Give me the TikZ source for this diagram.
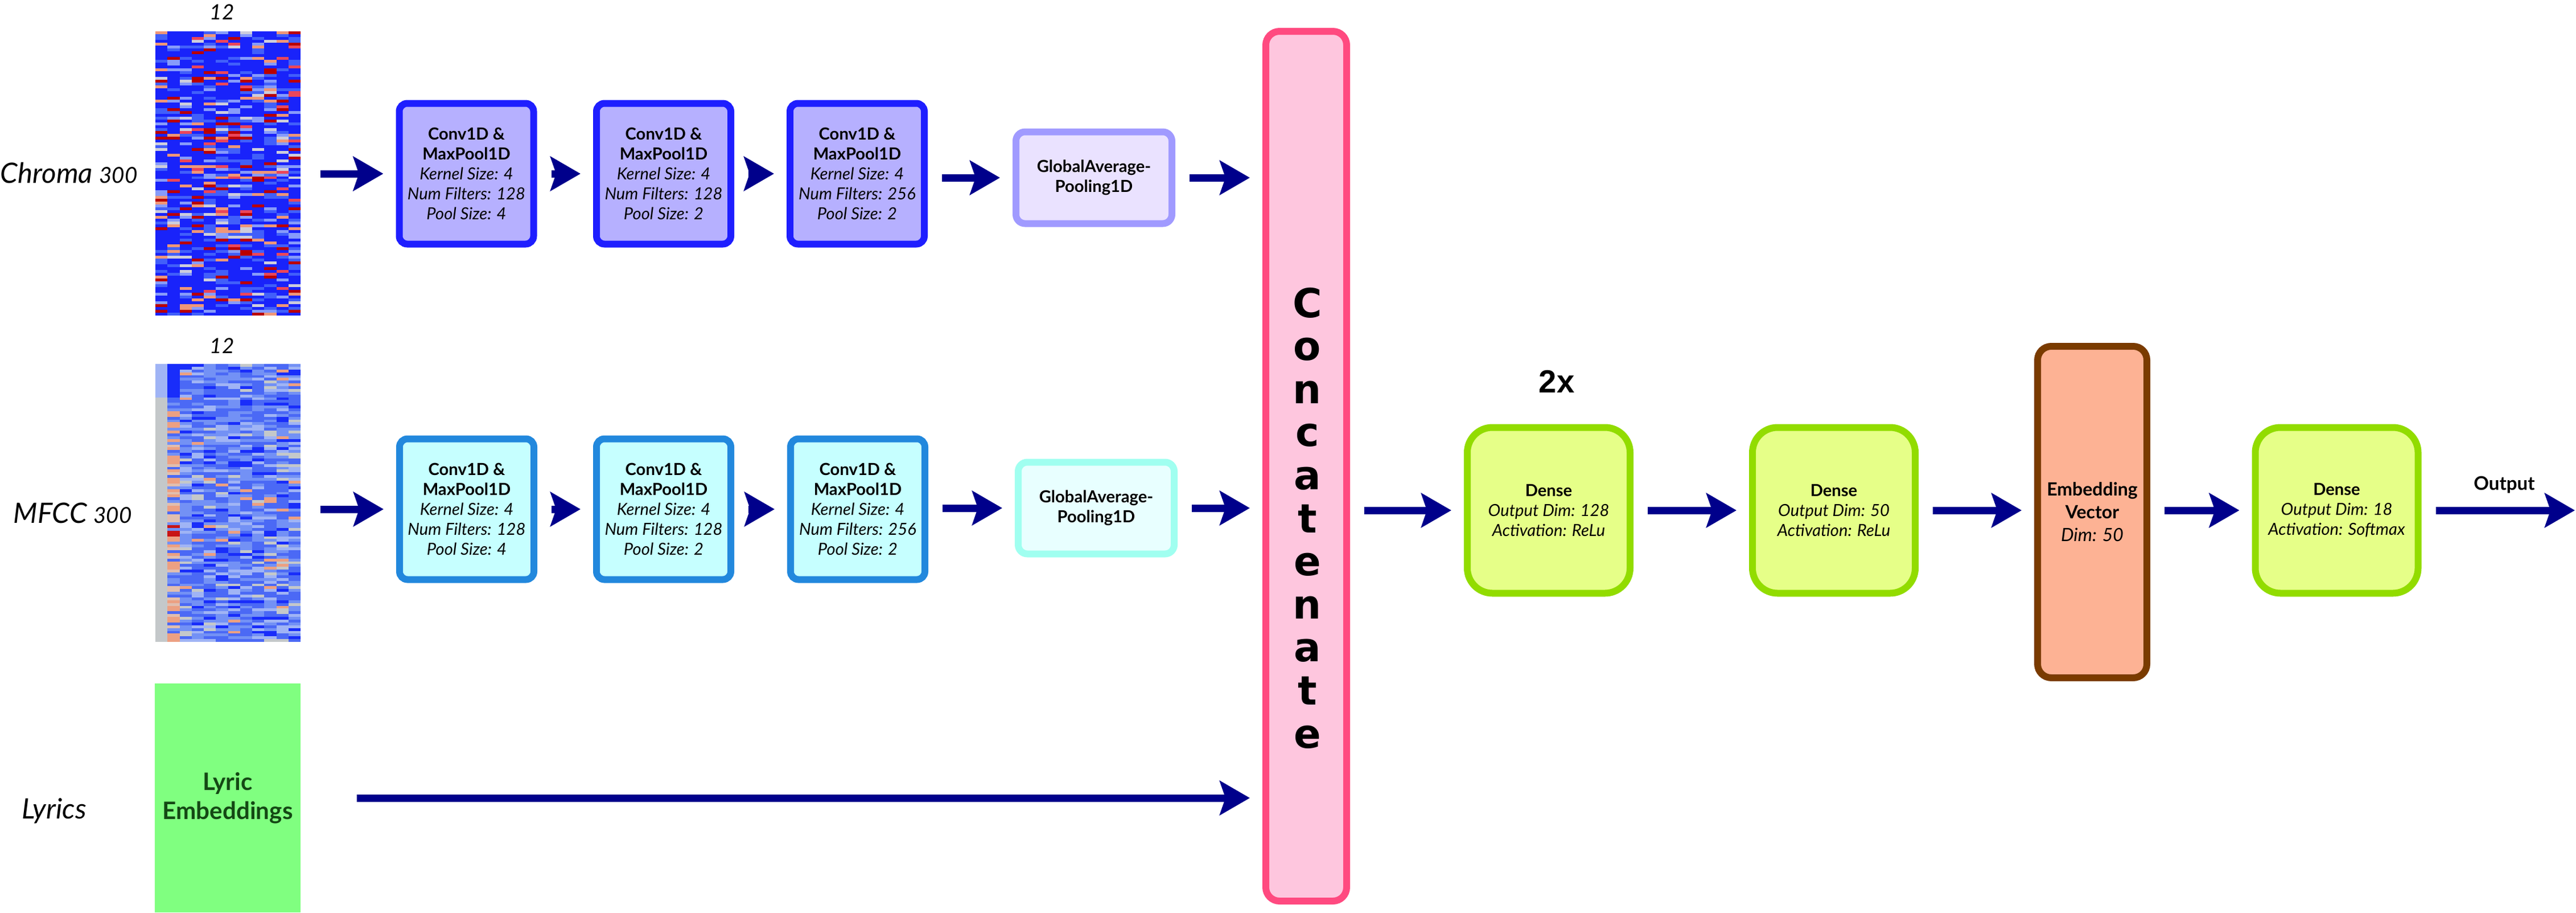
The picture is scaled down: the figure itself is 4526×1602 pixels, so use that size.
\documentclass[tikz,border=0pt]{standalone}
\usepackage{fontspec}
\setmainfont{Lato}
\newfontfamily\catfont{DejaVu Sans}
\newfontfamily\repfont{Liberation Sans}
\usetikzlibrary{arrows.meta}
\newlength\px
\setlength\px{0.01cm}
\newcommand\boxfont{\fontsize{8.3}{10}\selectfont}
\definecolor{convAline}{RGB}{30,30,255}
\definecolor{convAfill}{RGB}{182,176,255}
\definecolor{poolAline}{RGB}{160,154,255}
\definecolor{poolAfill}{RGB}{234,226,255}
\definecolor{convBline}{RGB}{34,136,221}
\definecolor{convBfill}{RGB}{198,255,255}
\definecolor{poolBline}{RGB}{160,255,240}
\definecolor{poolBfill}{RGB}{232,255,255}
\definecolor{catline}{RGB}{255,74,128}
\definecolor{catfill}{RGB}{254,198,222}
\definecolor{denseline}{RGB}{146,220,0}
\definecolor{densefill}{RGB}{230,255,136}
\definecolor{embline}{RGB}{122,59,0}
\definecolor{embfill}{RGB}{253,178,148}
\definecolor{lyricfill}{RGB}{128,255,128}
\definecolor{lyrictext}{RGB}{20,72,20}
\definecolor{arrowblue}{RGB}{0,0,139}
\definecolor{ha}{RGB}{25,35,250}
\definecolor{hb}{RGB}{65,95,250}
\definecolor{hc}{RGB}{135,155,250}
\definecolor{hd}{RGB}{205,205,220}
\definecolor{he}{RGB}{240,150,120}
\definecolor{hf}{RGB}{235,70,90}
\definecolor{hg}{RGB}{185,0,0}
\definecolor{ma}{RGB}{25,45,250}
\definecolor{mb}{RGB}{75,105,245}
\definecolor{mc}{RGB}{115,145,245}
\definecolor{md}{RGB}{160,180,245}
\definecolor{me}{RGB}{196,200,202}
\definecolor{mf}{RGB}{236,160,130}
\definecolor{mg}{RGB}{200,20,20}
\definecolor{mh}{RGB}{225,190,175}
\begin{document}
\begin{tikzpicture}[x=0.01cm,y=-0.01cm,
  boxbase/.style={line width=12\px,align=center,inner sep=0pt,font=\boxfont},
  chromaconv/.style={boxbase,draw=convAline,fill=convAfill,rounded corners=14\px,minimum width=236\px,minimum height=247\px},
  mfccconv/.style={boxbase,draw=convBline,fill=convBfill,rounded corners=14\px,minimum width=236\px,minimum height=247\px},
  chromapool/.style={boxbase,draw=poolAline,fill=poolAfill,rounded corners=16\px,minimum width=274\px,minimum height=161\px},
  mfccpool/.style={boxbase,draw=poolBline,fill=poolBfill,rounded corners=16\px,minimum width=274\px,minimum height=161\px},
  concatbox/.style={boxbase,draw=catline,fill=catfill,rounded corners=24\px,minimum width=142\px,minimum height=1527\px},
  densebox/.style={boxbase,draw=denseline,fill=densefill,rounded corners=44\px,minimum width=286\px,minimum height=291\px},
  embedbox/.style={boxbase,draw=embline,fill=embfill,rounded corners=24\px,minimum width=192\px,minimum height=582\px,font=\fontsize{9.1}{11.4}\selectfont},
  lyricbox/.style={fill=lyricfill,text=lyrictext,minimum width=256\px,minimum height=402\px,inner sep=0pt,align=center,font=\fontsize{12}{14.5}\selectfont\bfseries},
  heatmap/.style={minimum width=255\px,inner sep=0pt},
  side/.style={anchor=base west,inner sep=0pt,font=\fontsize{14}{16}\selectfont\itshape},
  sizelbl/.style={font=\fontsize{10.5}{12}\selectfont\itshape},
  flow/.style={draw=arrowblue,line width=13\px,-{Stealth[length=15pt,width=17pt,inset=2.8pt]},shorten <=25\px,shorten >=22\px}
]
\useasboundingbox (0,0) rectangle (4526,1602);
\pgfmathsetseed{42}
\foreach \r in {0,...,99}
  \foreach \c in {0,...,11}{
    \pgfmathrandominteger{\hk}{0}{99}
    \pgfmathtruncatemacro\hn{(\hk>54)+(\hk>69)+(\hk>77)+(\hk>81)+(\hk>87)+(\hk>91)}
    \ifcase\hn\def\hcol{ha}\or\def\hcol{hb}\or\def\hcol{hc}\or\def\hcol{hd}\or\def\hcol{he}\or\def\hcol{hf}\else\def\hcol{hg}\fi
    \fill[\hcol] ({273+21.25*\c},{55+4.99*\r}) rectangle ++(21.6,5.3);
  }
\foreach \r in {0,...,99}
  \foreach \c in {0,...,11}{
    \pgfmathrandominteger{\hk}{0}{99}
    \pgfmathtruncatemacro\hn{\c==0 ? (\r<12 ? 3 : 4) : (\c==1 ? (\r<12 ? 0 : ((\r>53)*(\r<62)*(\hk<45) ? 6 : (\hk<50 ? 5 : (\hk<65 ? 7 : (\hk<85 ? 2 : 1))))) : ((\hk>9)+(\hk>44)+(\hk>74)+(\hk>89)+(\hk>95)))}
    \ifcase\hn\def\hcol{ma}\or\def\hcol{mb}\or\def\hcol{mc}\or\def\hcol{md}\or\def\hcol{me}\or\def\hcol{mf}\or\def\hcol{mg}\else\def\hcol{mh}\fi
    \fill[\hcol] ({273+21.25*\c},{639+4.88*\r}) rectangle ++(21.6,5.2);
  }
\node (chroma) at (400.5,304.5) [heatmap,minimum height=499\px] {};
\node (mfcc) at (400.5,883) [heatmap,minimum height=488\px] {};
\node (nchroma) at (390,21) [sizelbl] {12};
\node (nmfcc) at (390,607) [sizelbl] {12};
\node (lchroma) at (0,321) [side] {Chroma {\fontsize{11}{13}\selectfont 300}};
\node (lmfcc) at (23,918) [side] {MFCC {\fontsize{11}{13}\selectfont 300}};
\node (llyrics) at (38,1437) [side] {Lyrics};
\node (lyric) at (400,1401) [lyricbox] {Lyric\\Embeddings};
\node (ca1) at (819.5,305) [chromaconv] {\textbf{Conv1D \&}\\\textbf{MaxPool1D}\\\textit{Kernel Size: 4}\\\textit{Num Filters: 128}\\\textit{Pool Size: 4}};
\node (ca2) at (1166,305) [chromaconv] {\textbf{Conv1D \&}\\\textbf{MaxPool1D}\\\textit{Kernel Size: 4}\\\textit{Num Filters: 128}\\\textit{Pool Size: 2}};
\node (ca3) at (1506,305) [chromaconv] {\textbf{Conv1D \&}\\\textbf{MaxPool1D}\\\textit{Kernel Size: 4}\\\textit{Num Filters: 256}\\\textit{Pool Size: 2}};
\node (pa) at (1922,312) [chromapool] {\textbf{GlobalAverage-}\\\textbf{Pooling1D}};
\node (cb1) at (820,894) [mfccconv] {\textbf{Conv1D \&}\\\textbf{MaxPool1D}\\\textit{Kernel Size: 4}\\\textit{Num Filters: 128}\\\textit{Pool Size: 4}};
\node (cb2) at (1166,894) [mfccconv] {\textbf{Conv1D \&}\\\textbf{MaxPool1D}\\\textit{Kernel Size: 4}\\\textit{Num Filters: 128}\\\textit{Pool Size: 2}};
\node (cb3) at (1507,894) [mfccconv] {\textbf{Conv1D \&}\\\textbf{MaxPool1D}\\\textit{Kernel Size: 4}\\\textit{Num Filters: 256}\\\textit{Pool Size: 2}};
\node (pb) at (1926,892) [mfccpool] {\textbf{GlobalAverage-}\\\textbf{Pooling1D}};
\node (concat) at (2295,818.5) [concatbox] {};
\foreach \l [count=\i from 0] in {C,o,n,c,a,t,e,n,a,t,e}
  \node (ch\i) at (2297,{557+75.6*\i}) [anchor=base,inner sep=0pt,font=\catfont\bfseries\fontsize{20}{24}\selectfont] {\l};
\node (rep) at (2735,670) [font=\repfont\bfseries\fontsize{16}{19}\selectfont] {2x};
\node (d1) at (2721,896) [densebox] {\textbf{Dense}\\\textit{Output Dim: 128}\\\textit{Activation: ReLu}};
\node (d2) at (3222,896) [densebox] {\textbf{Dense}\\\textit{Output Dim: 50}\\\textit{Activation: ReLu}};
\node (emb) at (3676,899) [embedbox] {\textbf{Embedding}\\\textbf{Vector}\\\textit{Dim: 50}};
\node (d3) at (4105.5,896) [densebox] {\textbf{Dense}\\\textit{Output Dim: 18}\\\textit{Activation: Softmax}};
\node (outlbl) at (4400,851) [font=\fontsize{9.4}{11}\selectfont\bfseries] {Output};
\coordinate (out) at (4524,896);
\draw[flow,shorten <=34\px] (chroma.east |- ca1) -- (ca1);
\draw[flow] (ca1) -- (ca2);
\draw[flow] (ca2) -- (ca3);
\draw[flow] (ca3.east |- pa) -- (pa);
\draw[flow] (pa) -- (pa -| concat.west);
\draw[flow,shorten <=34\px] (mfcc.east |- cb1) -- (cb1);
\draw[flow] (cb1) -- (cb2);
\draw[flow] (cb2) -- (cb3);
\draw[flow] (cb3.east |- pb) -- (pb);
\draw[flow] (pb) -- (pb -| concat.west);
\draw[flow,shorten <=98\px] (lyric) -- (lyric -| concat.west);
\draw[flow] (concat.east |- d1) -- (d1);
\draw[flow] (d1) -- (d2);
\draw[flow] (d2) -- (d2 -| emb.west);
\draw[flow] (emb.east |- d3) -- (d3);
\draw[flow,shorten >=0pt] (d3) -- (out);
\end{tikzpicture}
\end{document}
